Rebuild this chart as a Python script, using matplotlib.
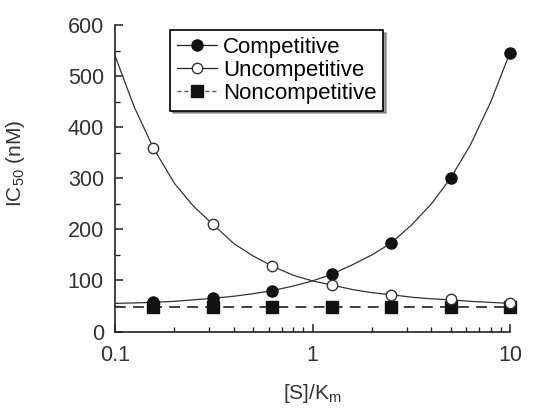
import matplotlib
matplotlib.use("Agg")
import matplotlib.pyplot as plt
from matplotlib.ticker import FixedLocator, NullFormatter, FixedFormatter

plt.rcParams['font.family'] = ['Liberation Sans', 'DejaVu Sans']
plt.rcParams['mathtext.fontset'] = 'custom'
plt.rcParams['mathtext.rm'] = 'Liberation Sans'
plt.rcParams['mathtext.it'] = 'Liberation Sans'

# measured points
s_km = [0.156, 0.3125, 0.625, 1.25, 2.5, 5.0, 10.0]
competitive = [57, 65, 80, 112, 173, 300, 546]
uncompetitive = [360, 210, 128, 91, 72, 63, 55]
noncompetitive = [48, 48, 48, 48, 48, 48, 48]

# curves
curve_x = [0.1, 0.125, 0.156, 0.2, 0.25, 0.3125, 0.4, 0.5, 0.625, 0.8, 1.0,
           1.25, 1.6, 2.0, 2.5, 3.2, 4.0, 5.0, 6.3, 8.0, 10.0]
curve_comp = [55, 56, 57, 59, 62, 65, 69, 74, 80, 89, 99,
              112, 131, 150, 173, 210, 250, 300, 365, 450, 546]
curve_uncomp = [540, 440, 360, 290, 245, 210, 172, 148, 128, 110, 99,
                91, 82, 76, 72, 67, 64, 62, 59, 57, 55]
curve_non = [48] * len(curve_x)

series_labels = ["Competitive", "Uncompetitive", "Noncompetitive"]
y_ticks = [0, 100, 200, 300, 400, 500, 600]
x_ticks = [0.1, 1, 10]
x_ticklabels = ["0.1", "1", "10"]

fig = plt.figure(figsize=(5.39, 4.08), dpi=100)
ax = fig.add_axes([115/539, 1 - 331.5/408, 395/539, 306.5/408])

lw = 0.9
ax.plot(curve_x, curve_comp, color='#333333', lw=lw, zorder=2)
ax.plot(curve_x, curve_uncomp, color='#333333', lw=lw, zorder=2)
ax.plot(curve_x, curve_non, color='#333333', lw=1.3, ls=(0, (6, 4)), zorder=2)

ax.plot(s_km, noncompetitive, ls='none', marker='s', ms=8, color='#111111',
        clip_on=False, zorder=3)
ax.plot(s_km, competitive, ls='none', marker='o', ms=8, color='#111111',
        clip_on=False, zorder=4)
ax.plot(s_km, uncompetitive, ls='none', marker='o', ms=7.5, mfc='white',
        mec='#333333', mew=1.0, clip_on=False, zorder=5)

# legend handles
h1, = ax.plot([], [], color='#222222', lw=lw, marker='o', ms=8, mfc='#111111', mec='#111111')
h2, = ax.plot([], [], color='#222222', lw=lw, marker='o', ms=7.5, mfc='white', mec='#333333')
h3, = ax.plot([], [], color='#555555', lw=1.0, ls=(0, (3, 2)), marker='s', ms=8,
              mfc='#111111', mec='#111111')
leg = ax.legend([h1, h2, h3], series_labels, loc='upper left',
                bbox_to_anchor=(0.139, 0.984), borderaxespad=0,
                fontsize=16, frameon=True, fancybox=False, shadow=True,
                handlelength=1.8, handletextpad=0.3, labelspacing=0.1,
                borderpad=0.3, edgecolor='black')
leg.get_frame().set_linewidth(1.2)

ax.set_xscale('log')
ax.set_xlim(0.1, 10)
ax.set_ylim(0, 600)

for side in ['top', 'right']:
    ax.spines[side].set_visible(False)
for side in ['left', 'bottom']:
    ax.spines[side].set_linewidth(1.2)
    ax.spines[side].set_color('#222222')

ax.xaxis.set_major_locator(FixedLocator(x_ticks))
ax.xaxis.set_major_formatter(FixedFormatter(x_ticklabels))
ax.xaxis.set_minor_formatter(NullFormatter())
ax.set_yticks(y_ticks)
ax.yaxis.set_minor_locator(FixedLocator([50, 150, 250, 350, 450, 550]))

ax.tick_params(axis='both', which='major', direction='in', length=6, width=1.1,
               labelsize=15.5, color='#222222', labelcolor='#333333')
ax.tick_params(axis='both', which='minor', direction='in', length=3.5, width=1.0,
               color='#222222')
ax.tick_params(axis='y', which='major', pad=8)
ax.tick_params(axis='x', which='major', pad=10)

ax.set_xlabel(r'[S]/K$_\mathregular{m}$', fontsize=15, labelpad=11, color='#333333')
ax.set_ylabel(r'IC$_\mathregular{50}$ (nM)', fontsize=15, color='#333333')
ax.yaxis.set_label_coords(-0.222, 0.55)

fig.savefig('out.png', dpi=100)
